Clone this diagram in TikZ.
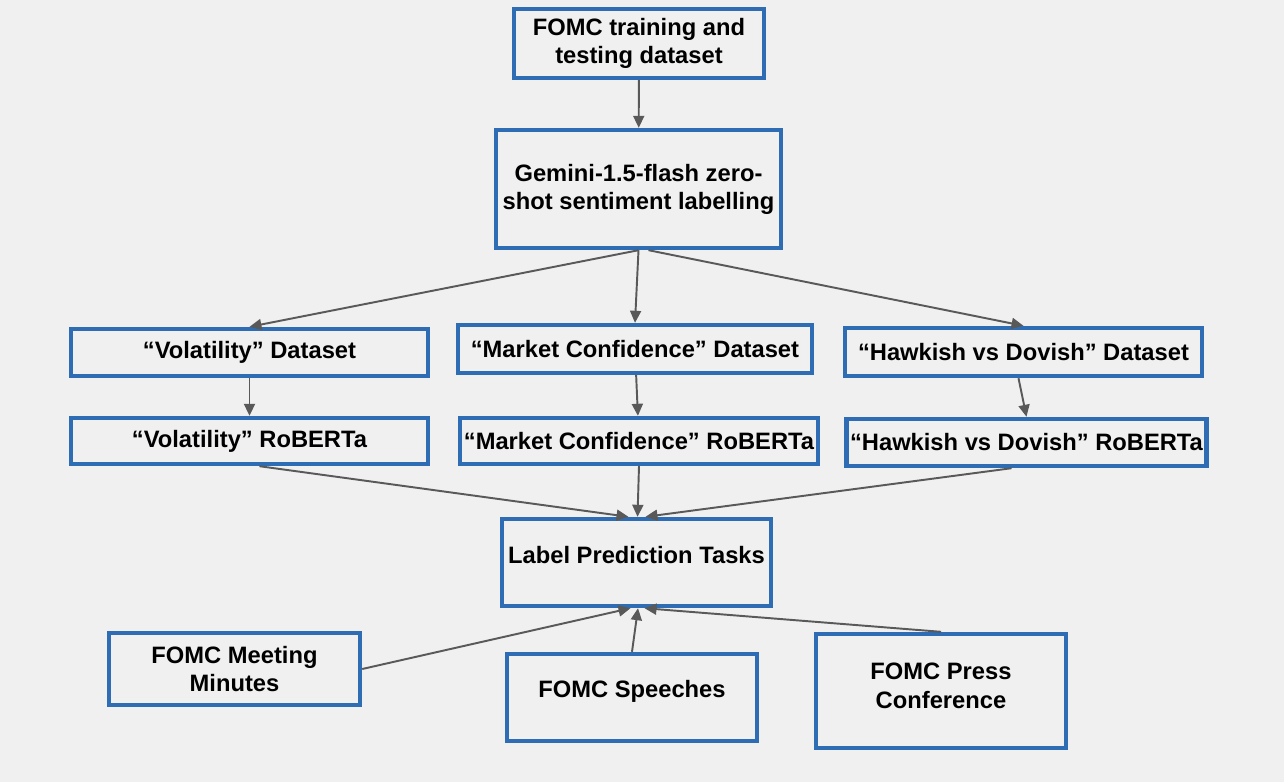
\documentclass[tikz,border=0pt]{standalone}
\usepackage{xcolor}
\usepackage{fontspec}
\setmainfont{Liberation Sans}
\usetikzlibrary{arrows.meta}

\definecolor{bgGray}{HTML}{F0F0F0}
\definecolor{boxBlue}{HTML}{2E6DB4}
\definecolor{arrowGray}{HTML}{595959}

\tikzset{
    stagebox/.style={draw=boxBlue, line width=2.5pt, fill=bgGray, align=center,
        inner sep=2pt, font=\fontsize{13.5}{16}\selectfont\bfseries},
    flow/.style={arrowGray, line width=1.1pt, -{Triangle[length=0.24cm,width=0.22cm]}}
}

\begin{document}
\begin{tikzpicture}
    % Background and page size
    \fill[bgGray] (0,0) rectangle (25.68,-15.64);
    \useasboundingbox (0,0) rectangle (25.68,-15.64);

    % Source data and labelling
    \node[stagebox, minimum width=5.0cm, minimum height=1.38cm] (data) at (12.78,-0.87) {FOMC training and\\testing dataset};
    \node[stagebox, minimum width=5.7cm, minimum height=2.36cm] (gemini) at (12.77,-3.78) {Gemini-1.5-flash zero-\\shot sentiment labelling};

    % Labelled datasets
    \node[stagebox, minimum width=7.14cm, minimum height=0.94cm] (volData) at (4.99,-7.05) {“Volatility” Dataset};
    \node[stagebox, minimum width=7.08cm, minimum height=0.96cm] (mcData) at (12.70,-6.98) {“Market Confidence” Dataset};
    \node[stagebox, minimum width=7.14cm, minimum height=0.96cm] (hdData) at (20.47,-7.04) {“Hawkish vs Dovish” Dataset};

    % Fine-tuned models
    \node[stagebox, minimum width=7.14cm, minimum height=0.92cm] (volModel) at (4.99,-8.82) {“Volatility” RoBERTa};
    \node[stagebox, minimum width=7.16cm, minimum height=0.92cm] (mcModel) at (12.78,-8.82) {“Market Confidence” RoBERTa};
    \node[stagebox, minimum width=7.14cm, minimum height=0.94cm] (hdModel) at (20.53,-8.85) {“Hawkish vs Dovish” RoBERTa};

    % Prediction tasks and FOMC documents
    \node[stagebox, minimum width=5.38cm, minimum height=1.74cm, text depth=0.3cm] (tasks) at (12.73,-11.25) {Label Prediction Tasks};
    \node[stagebox, minimum width=5.02cm, minimum height=1.44cm] (minutes) at (4.69,-13.38) {FOMC Meeting\\Minutes};
    \node[stagebox, minimum width=5.0cm, minimum height=1.74cm, text depth=0.33cm] (speeches) at (12.64,-13.95) {FOMC Speeches};
    \node[stagebox, minimum width=5.0cm, minimum height=2.28cm] (press) at (18.82,-13.82) {FOMC Press\\Conference\\[-0.35cm]};

    % Arrows
    \draw[flow] (data) -- (gemini);
    \draw[flow] (gemini.south) -- (volData.north);
    \draw[flow] (gemini.south) -- (mcData.north);
    \draw[flow] ([xshift=0.2cm]gemini.south) -- (hdData.north);
    \draw[flow] (volData) -- (volModel);
    \draw[flow] (mcData) -- (mcModel);
    \draw[flow] ([xshift=-0.1cm]hdData.south) -- (hdModel.north);
    \draw[flow] ([xshift=0.2cm]volModel.south) -- ([xshift=-0.16cm]tasks.north);
    \draw[flow] (mcModel.south) -- ([xshift=0.02cm]tasks.north);
    \draw[flow] ([xshift=-0.3cm]hdModel.south) -- ([xshift=0.18cm]tasks.north);
    \draw[flow] (minutes.east) -- ([xshift=-0.12cm]tasks.south);
    \draw[flow] (speeches.north) -- ([xshift=0.03cm]tasks.south);
    \draw[flow] (press.north) -- ([xshift=0.16cm]tasks.south);
\end{tikzpicture}
\end{document}
